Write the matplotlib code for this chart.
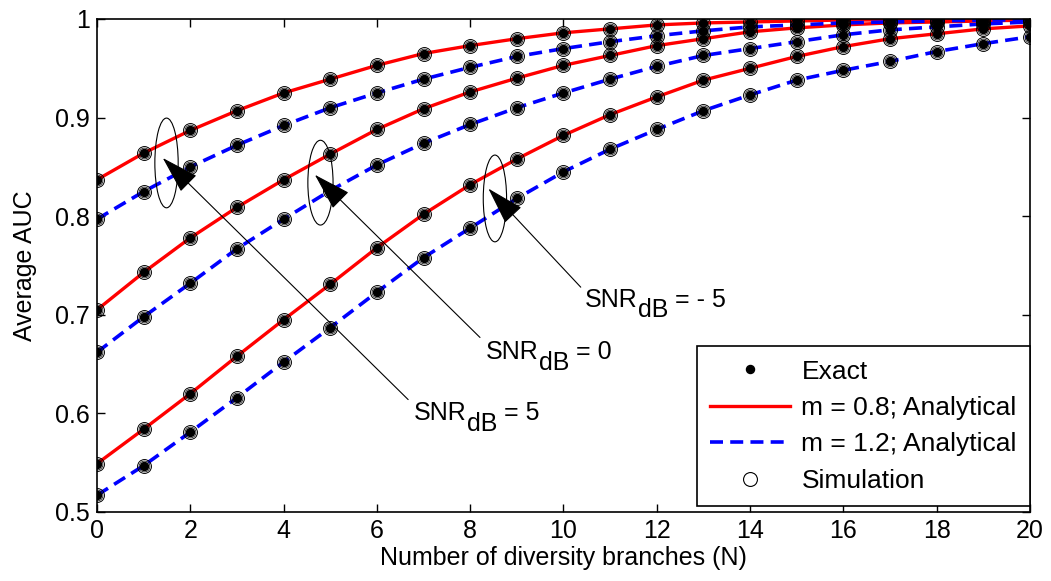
import numpy as np
import matplotlib.pyplot as plt
from matplotlib.patches import Ellipse
from matplotlib.lines import Line2D

plt.rcParams["font.family"] = ["Liberation Sans", "DejaVu Sans"]

FS = 18

N = np.arange(0, 21)

# average AUC, m = 0.8 (red) and m = 1.2 (blue), for three SNR values
auc_snr5_m08 = [0.837, 0.864, 0.887, 0.907, 0.925, 0.939, 0.953, 0.965, 0.973, 0.980, 0.986,
                0.990, 0.994, 0.996, 0.997, 0.998, 0.999, 0.999, 1.000, 1.000, 1.000]
auc_snr5_m12 = [0.797, 0.825, 0.850, 0.872, 0.892, 0.910, 0.925, 0.939, 0.951, 0.962, 0.970,
                0.977, 0.983, 0.988, 0.992, 0.994, 0.996, 0.997, 0.998, 0.999, 0.999]
auc_snr0_m08 = [0.705, 0.743, 0.778, 0.809, 0.837, 0.863, 0.888, 0.909, 0.926, 0.940, 0.953,
                0.963, 0.973, 0.980, 0.987, 0.991, 0.994, 0.996, 0.997, 0.998, 0.999]
auc_snr0_m12 = [0.662, 0.698, 0.732, 0.767, 0.797, 0.826, 0.852, 0.874, 0.893, 0.910, 0.925,
                0.939, 0.952, 0.963, 0.970, 0.977, 0.984, 0.989, 0.992, 0.995, 0.997]
auc_snrm5_m08 = [0.549, 0.584, 0.620, 0.658, 0.695, 0.731, 0.768, 0.802, 0.832, 0.858, 0.882,
                 0.903, 0.921, 0.938, 0.950, 0.962, 0.972, 0.980, 0.985, 0.990, 0.993]
auc_snrm5_m12 = [0.517, 0.547, 0.581, 0.616, 0.652, 0.687, 0.723, 0.758, 0.788, 0.818, 0.845,
                 0.868, 0.888, 0.907, 0.923, 0.938, 0.948, 0.957, 0.967, 0.975, 0.982]

red_curves = [auc_snr5_m08, auc_snr0_m08, auc_snrm5_m08]
blue_curves = [auc_snr5_m12, auc_snr0_m12, auc_snrm5_m12]

fig = plt.figure(figsize=(10.51, 5.81), dpi=100)
ax = fig.add_axes([0.0923, 0.1188, 0.8877, 0.8485])

for y in red_curves:
    ax.plot(N, y, "-", color="red", lw=2.4, zorder=2)
for y in blue_curves:
    ax.plot(N, y, "--", color="blue", lw=2.6, dashes=(3.6, 2.0), zorder=2)

for y in red_curves + blue_curves:
    ax.plot(N, y, "o", ms=10, mfc="none", mec="k", mew=0.7, zorder=3)
    ax.plot(N, y, "o", ms=7.8, mfc="none", mec="k", mew=0.5, zorder=3)
    ax.plot(N, y, "o", ms=5.8, mfc="k", mec="k", zorder=4)


def snr_label(x, y, val):
    # "SNR" with a full-size, lowered "dB" subscript
    t1 = ax.text(x, y, "SNR", fontsize=FS, ha="left", va="center")
    t2 = ax.annotate("dB", xy=(1, 0), xycoords=t1, xytext=(0, -7.5),
                     textcoords="offset points", fontsize=FS, ha="left", va="bottom")
    ax.annotate(" = " + val, xy=(1, 0), xycoords=t2, xytext=(0, 7.5),
                textcoords="offset points", fontsize=FS, ha="left", va="bottom")


# SNR groups: ellipse around the pair, arrow from the label
groups = [
    (1.49, 0.854, 0.50, 0.091, (1.41, 0.859), (6.67, 0.614), (6.80, 0.600), "5"),
    (4.79, 0.834, 0.54, 0.086, (4.67, 0.842), (8.21, 0.677), (8.34, 0.662), "0"),
    (8.53, 0.818, 0.50, 0.088, (8.39, 0.828), (10.37, 0.728), (10.46, 0.715), "- 5"),
]
for cx, cy, w, h, tip, tail, txt, val in groups:
    ax.add_patch(Ellipse((cx, cy), w, h, fill=False, ec="k", lw=0.8, zorder=5))
    ax.annotate("", xy=tip, xytext=tail,
                arrowprops=dict(arrowstyle="-|>,head_length=1.1,head_width=0.33",
                                mutation_scale=22, lw=0.8, color="k",
                                shrinkA=0, shrinkB=0), zorder=6)
    snr_label(txt[0], txt[1], val)

ax.set_xlim(0, 20)
ax.set_ylim(0.5, 1.0)
ax.set_xticks(np.arange(0, 21, 2))
ax.set_yticks([0.5, 0.6, 0.7, 0.8, 0.9, 1.0])
ax.set_yticklabels(["0.5", "0.6", "0.7", "0.8", "0.9", "1"])
ax.tick_params(direction="in", length=6, width=1, top=True, right=True, labelsize=FS, pad=5)
for s in ax.spines.values():
    s.set_linewidth(1.2)
ax.set_xlabel("Number of diversity branches (N)", fontsize=FS, labelpad=2)
ax.set_ylabel("Average AUC", fontsize=FS)
ax.yaxis.set_label_coords(-0.064, 0.5)

handles = [
    Line2D([], [], ls="none", marker="o", ms=5.8, mfc="k", mec="k"),
    Line2D([], [], color="red", lw=2.4),
    Line2D([], [], color="blue", lw=2.6, ls="--", dashes=(3.6, 2.0)),
    Line2D([], [], ls="none", marker="o", ms=10, mfc="none", mec="k", mew=0.8),
]
labels = ["Exact", "m = 0.8; Analytical", "m = 1.2; Analytical", "Simulation"]
leg = ax.legend(handles, labels, loc="lower right", bbox_to_anchor=(1.0, 0.012),
                borderaxespad=0, fontsize=19, handlelength=3.0, handletextpad=0.45,
                labelspacing=0.47, borderpad=0.5, fancybox=False, framealpha=1,
                edgecolor="k")
leg.get_frame().set_linewidth(1.2)

fig.savefig("out.png", dpi=100)
